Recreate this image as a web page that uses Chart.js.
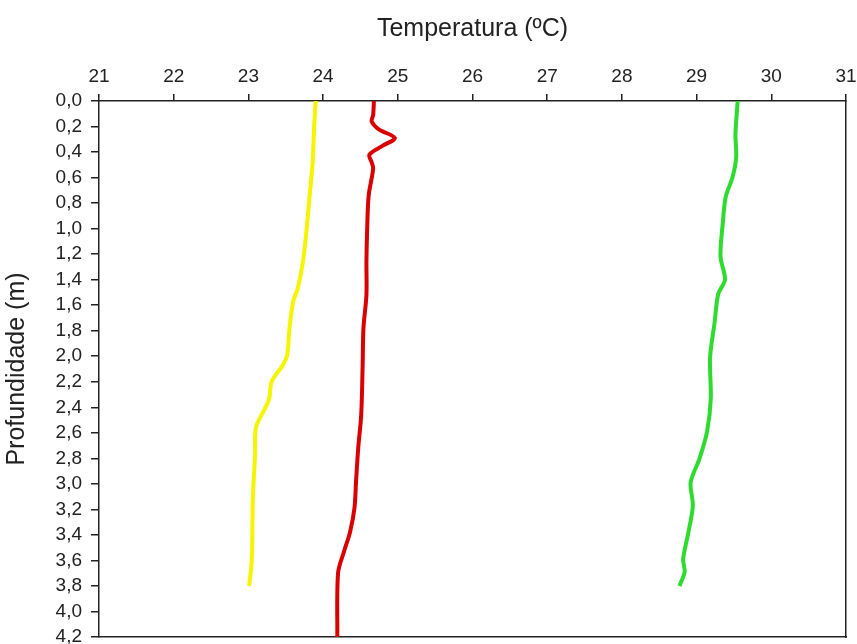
<!DOCTYPE html>
<html>
<head>
<meta charset="utf-8">
<script src="https://cdn.jsdelivr.net/npm/chart.js@4"></script>
<style>
  html, body { margin: 0; padding: 0; background: #fff; overflow: hidden; }
  #wrap { width: 857px; height: 644px; }
</style>
</head>
<body>
<div id="wrap"><canvas id="myChart"></canvas></div>
<script>
// tick labels
const tempTicks = [21, 22, 23, 24, 25, 26, 27, 28, 29, 30, 31];
const depthTicks = [0, 0.2, 0.4, 0.6, 0.8, 1.0, 1.2, 1.4, 1.6, 1.8, 2.0, 2.2, 2.4, 2.6, 2.8, 3.0, 3.2, 3.4, 3.6, 3.8, 4.0, 4.2];

// yellow profile
const yellowDepth = [0.00, 0.20, 0.48, 0.74, 1.00, 1.26, 1.47, 1.57, 1.78, 1.99, 2.07, 2.20, 2.33, 2.41, 2.54, 2.62, 2.75, 3.11, 3.51, 3.64, 3.80];
const yellowTemp  = [23.90, 23.88, 23.86, 23.82, 23.78, 23.73, 23.66, 23.60, 23.55, 23.52, 23.46, 23.31, 23.28, 23.22, 23.11, 23.09, 23.09, 23.06, 23.05, 23.04, 23.01];

// red profile
const redDepth = [0.00, 0.11, 0.16, 0.22, 0.29, 0.35, 0.42, 0.48, 0.53, 0.74, 1.00, 1.26, 1.52, 1.78, 2.05, 2.46, 2.72, 2.99, 3.19, 3.38, 3.53, 3.70, 4.20];
const redTemp  = [24.68, 24.67, 24.65, 24.74, 24.96, 24.80, 24.62, 24.65, 24.67, 24.61, 24.59, 24.58, 24.58, 24.54, 24.53, 24.51, 24.47, 24.44, 24.42, 24.36, 24.28, 24.20, 24.19];

// green profile
const greenDepth = [0.00, 0.26, 0.44, 0.60, 0.75, 0.96, 1.22, 1.40, 1.51, 1.74, 2.01, 2.33, 2.59, 2.80, 2.99, 3.17, 3.38, 3.59, 3.69, 3.80];
const greenTemp  = [29.55, 29.52, 29.53, 29.48, 29.39, 29.35, 29.32, 29.38, 29.29, 29.24, 29.18, 29.19, 29.14, 29.04, 28.92, 28.95, 28.89, 28.82, 28.84, 28.77];

const font = "'Liberation Sans', Arial, sans-serif";
const axisColor = '#222';

function points(temps, depths) {
    return temps.map((t, i) => ({ x: t, y: depths[i] }));
}

function profile(temps, depths, color) {
    return {
        data: points(temps, depths),
        showLine: true,
        borderColor: color,
        backgroundColor: color,
        borderWidth: 4,
        pointRadius: 0,
        tension: 0.3,
        fill: false
    };
}

const ctx = document.getElementById('myChart').getContext('2d');

new Chart(ctx, {
    type: 'scatter',
    data: {
        datasets: [
            profile(yellowTemp, yellowDepth, '#f5f500'),
            profile(redTemp, redDepth, '#d80000'),
            profile(greenTemp, greenDepth, '#2edb2e')
        ]
    },
    options: {
        responsive: true,
        maintainAspectRatio: false,
        animation: false,
        layout: { padding: { top: 0, left: 0, right: 11, bottom: 7 } },
        plugins: {
            legend: { display: false },
            tooltip: { enabled: false }
        },
        scales: {
            x: {
                type: 'linear',
                position: 'top',
                min: 21,
                max: 31,
                afterBuildTicks: axis => { axis.ticks = tempTicks.map(v => ({ value: v })); },
                // let the "31" label run into the right margin like the original
                afterFit: axis => { axis.paddingLeft = 0; axis.paddingRight = 0; },
                title: {
                    display: true,
                    text: 'Temperatura (ºC)',
                    color: axisColor,
                    font: { family: font, size: 25 },
                    padding: { top: 14, bottom: 15.2 }
                },
                ticks: {
                    color: axisColor,
                    font: { family: font, size: 19 },
                    padding: 6,
                    maxRotation: 0,
                    autoSkip: false
                },
                grid: {
                    display: true,
                    drawOnChartArea: false,
                    tickLength: 7,
                    color: axisColor,
                    lineWidth: 1.5
                },
                border: { display: true, color: axisColor, width: 1.5 }
            },
            y: {
                type: 'linear',
                position: 'left',
                reverse: true,
                min: 0,
                max: 4.2,
                afterBuildTicks: axis => { axis.ticks = depthTicks.map(v => ({ value: v })); },
                // bottom label "4,2" is cut by the picture edge in the original
                afterFit: axis => { axis.paddingTop = 0; axis.paddingBottom = 0; },
                title: {
                    display: true,
                    text: 'Profundidade (m)',
                    color: axisColor,
                    font: { family: font, size: 25 },
                    padding: { top: 2, bottom: 14.6 }
                },
                ticks: {
                    color: axisColor,
                    font: { family: font, size: 19 },
                    padding: 9,
                    autoSkip: false,
                    callback: v => v.toFixed(1).replace('.', ',')
                },
                grid: {
                    display: true,
                    drawOnChartArea: false,
                    tickLength: 8,
                    color: axisColor,
                    lineWidth: 1.5
                },
                border: { display: true, color: axisColor, width: 1.5 }
            },
            // plain frame lines on the other two sides
            x2: {
                type: 'linear',
                position: 'bottom',
                display: true,
                min: 21,
                max: 31,
                ticks: { display: false },
                grid: { display: false, drawTicks: false },
                border: { display: true, color: axisColor, width: 1.5 }
            },
            y2: {
                type: 'linear',
                position: 'right',
                display: true,
                min: 0,
                max: 4.2,
                ticks: { display: false },
                grid: { display: false, drawTicks: false },
                border: { display: true, color: axisColor, width: 1.5 }
            }
        }
    }
});
</script>
</body>
</html>
